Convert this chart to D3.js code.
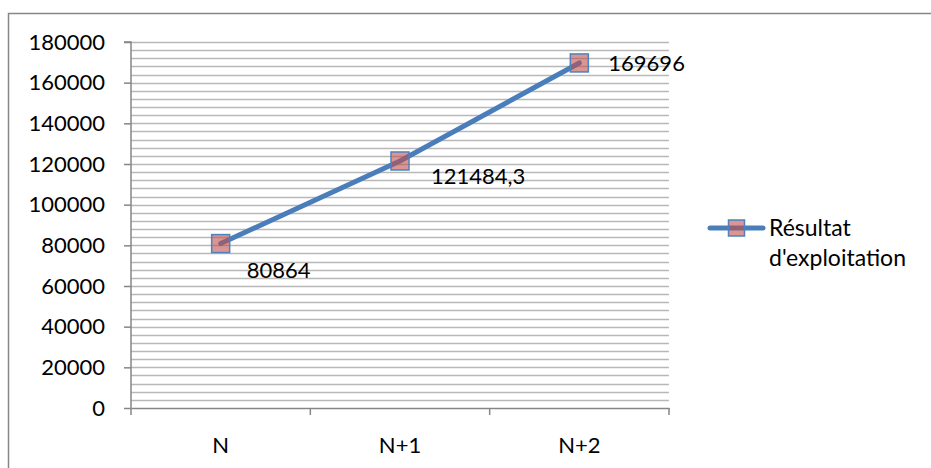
<!DOCTYPE html>
<html>
<head>
<meta charset="utf-8">
<script src="https://cdn.jsdelivr.net/npm/d3@7"></script>
<style>
html,body{margin:0;padding:0;background:#fff;}
svg{display:block;}
text{font-family:Lato,"Liberation Sans",sans-serif;fill:#000;}
</style>
</head>
<body>
<svg id="chart" width="931" height="468"></svg>
<script>
const categories = ["N", "N+1", "N+2"];
const values = [80864, 121484.3, 169696];
const valueLabels = ["80864", "121484,3", "169696"];
const seriesName = ["Résultat", "d'exploitation"];
const yTicks = [0, 20000, 40000, 60000, 80000, 100000, 120000, 140000, 160000, 180000];
const yMax = 180000;
const minorStep = 4000;

const svg = d3.select("#chart");
const plot = {left: 131, right: 669, top: 42, bottom: 408};
const FS = 22;

// outer border
svg.append("rect").attr("x", 8.5).attr("y", 13.5).attr("width", 1000).attr("height", 1000)
  .attr("fill", "none").attr("stroke", "#868686").attr("stroke-width", 1.5);

const x = d3.scaleBand().domain(categories).range([plot.left, plot.right]).paddingInner(0).paddingOuter(0);
const y = d3.scaleLinear().domain([0, yMax]).range([plot.bottom, plot.top]);

// gridlines (minor every 4000)
const gridVals = d3.range(minorStep, yMax + 1, minorStep);
svg.append("g").selectAll("line").data(gridVals).join("line")
  .attr("x1", plot.left).attr("x2", plot.right)
  .attr("y1", d => Math.round(y(d)) + 0.5).attr("y2", d => Math.round(y(d)) + 0.5)
  .attr("stroke", "#b8b8b8").attr("stroke-width", 1.5);

// y axis
const yAxis = d3.axisLeft(y).tickValues(yTicks).tickSize(7).tickPadding(19).tickFormat(d3.format("d"));
const gy = svg.append("g").attr("transform", `translate(${plot.left},0)`).call(yAxis);
gy.select(".domain").attr("stroke", "#868686").attr("stroke-width", 1.5).attr("d", `M-7,${y(yMax)}H0V${y(0)}`);
gy.selectAll(".tick line").attr("stroke", "#868686").attr("stroke-width", 1.5);
gy.selectAll(".tick text").attr("font-size", FS).attr("font-family", "Lato, sans-serif").attr("fill", "#000");

// x axis
const xAxis = d3.axisBottom(x).tickSize(0).tickPadding(29);
const gx = svg.append("g").attr("transform", `translate(0,${plot.bottom})`).call(xAxis);
gx.select(".domain").attr("stroke", "#868686").attr("stroke-width", 1.5);
gx.selectAll(".tick text").attr("font-size", FS).attr("font-family", "Lato, sans-serif").attr("fill", "#000");
const xTickPos = categories.map(c => x(c)).concat([x(categories[categories.length - 1]) + x.bandwidth()]);
gx.append("g").selectAll("line").data(xTickPos).join("line")
  .attr("x1", d => d).attr("x2", d => d).attr("y1", 0).attr("y2", 7)
  .attr("stroke", "#868686").attr("stroke-width", 1.5);

const cx = c => x(c) + x.bandwidth() / 2;
const pts = categories.map((c, i) => ({c, v: values[i], label: valueLabels[i]}));

// line
const line = d3.line().x(d => cx(d.c)).y(d => y(d.v));
svg.append("path").datum(pts).attr("d", line).attr("fill", "none")
  .attr("stroke", "#4a7ebb").attr("stroke-width", 5).attr("stroke-linecap", "round");

// markers
const ms = 18;
svg.append("g").selectAll("rect").data(pts).join("rect")
  .attr("x", d => cx(d.c) - ms / 2).attr("y", d => y(d.v) - ms / 2)
  .attr("width", ms).attr("height", ms)
  .attr("fill", "rgba(192,80,77,0.6)").attr("stroke", "#4f81bd").attr("stroke-width", 1.5);

// data labels
const labelOffset = [[26, 27], [31, 15], [29, 0]];
svg.append("g").selectAll("text").data(pts).join("text")
  .attr("x", (d, i) => cx(d.c) + labelOffset[i][0])
  .attr("y", (d, i) => y(d.v) + labelOffset[i][1])
  .attr("dy", "0.35em").attr("font-size", FS).text(d => d.label);

// legend
const lg = svg.append("g").attr("transform", "translate(710,228)");
lg.append("line").attr("x1", 0).attr("x2", 53).attr("y1", 0).attr("y2", 0)
  .attr("stroke", "#4a7ebb").attr("stroke-width", 5).attr("stroke-linecap", "round");
lg.append("rect").attr("x", 26.5 - 8).attr("y", -8).attr("width", 16).attr("height", 16)
  .attr("fill", "rgba(192,80,77,0.6)").attr("stroke", "#4f81bd").attr("stroke-width", 1.5);
lg.selectAll("text.leg").data(seriesName).join("text").attr("class", "leg")
  .attr("x", 59).attr("y", (d, i) => i * 30).attr("dy", "0.35em").attr("font-size", 23).text(d => d);
</script>
</body>
</html>
